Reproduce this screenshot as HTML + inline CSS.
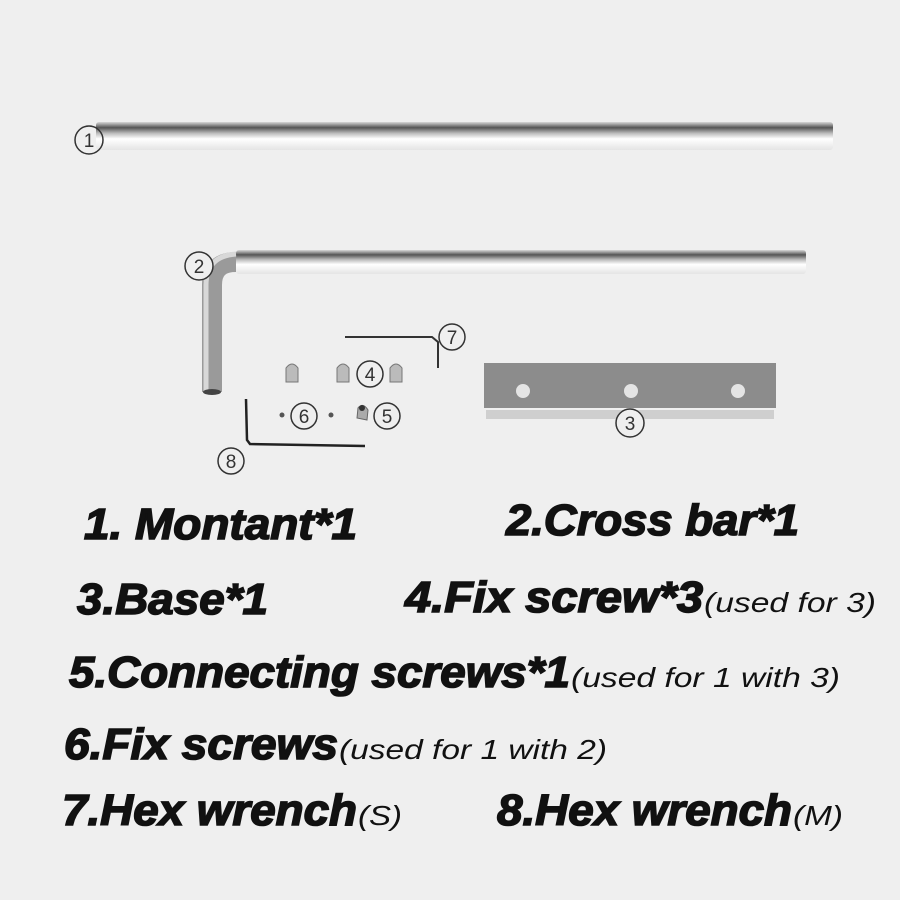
<!DOCTYPE html>
<html><head><style>html,body{margin:0;padding:0;background:#efefef;}svg{display:block}</style></head>
<body>
<svg width="900" height="900" viewBox="0 0 900 900" xmlns="http://www.w3.org/2000/svg">
<defs>
<linearGradient id="rodH" x1="0" y1="0" x2="0" y2="1">
<stop offset="0" stop-color="#d8d8d8"/><stop offset="0.2" stop-color="#555"/><stop offset="0.4" stop-color="#bbb"/><stop offset="0.6" stop-color="#fff"/><stop offset="1" stop-color="#e4e4e4"/>
</linearGradient>
<linearGradient id="rodV" x1="0" y1="0" x2="1" y2="0">
<stop offset="0" stop-color="#ddd"/><stop offset="0.3" stop-color="#bbb"/><stop offset="0.6" stop-color="#888"/><stop offset="1" stop-color="#ccc"/>
</linearGradient>
</defs>
<rect width="900" height="900" fill="#efefef"/>
<rect x="96" y="122" width="737" height="28" rx="3" fill="url(#rodH)"/>
<circle cx="89" cy="140" r="14" fill="none" stroke="#333" stroke-width="1.5"/>
<text x="89" y="147" font-family="Liberation Sans" font-size="19" text-anchor="middle" fill="#333">1</text>
<rect x="236" y="250" width="570" height="24" rx="3" fill="url(#rodH)"/>
<path d="M212 392 L212 285 Q212 262 236 262" fill="none" stroke="#9a9a9a" stroke-width="20"/>
<path d="M206 392 L206 285 Q206 256 236 254" fill="none" stroke="#d8d8d8" stroke-width="5"/>
<ellipse cx="212" cy="392" rx="9" ry="3" fill="#444"/>
<circle cx="199" cy="266" r="14" fill="#efefef" stroke="#333" stroke-width="1.5"/>
<text x="199" y="273" font-family="Liberation Sans" font-size="19" text-anchor="middle" fill="#333">2</text>
<path d="M345 337 L432 337 L438 342 L438 368" fill="none" stroke="#333" stroke-width="2"/>
<circle cx="452" cy="337" r="13" fill="none" stroke="#333" stroke-width="1.5"/>
<text x="452" y="344" font-family="Liberation Sans" font-size="19" text-anchor="middle" fill="#333">7</text>
<g fill="#bbb" stroke="#777" stroke-width="1">
<path d="M286 382 L286 368 Q292 360 298 368 L298 382 Z"/>
<path d="M337 382 L337 368 Q343 360 349 368 L349 382 Z"/>
<path d="M390 382 L390 368 Q396 360 402 368 L402 382 Z"/>
</g>
<circle cx="370" cy="374" r="13" fill="none" stroke="#333" stroke-width="1.5"/>
<text x="370" y="381" font-family="Liberation Sans" font-size="19" text-anchor="middle" fill="#333">4</text>
<circle cx="282" cy="415" r="2.5" fill="#555"/>
<circle cx="331" cy="415" r="2.5" fill="#555"/>
<circle cx="304" cy="416" r="13" fill="none" stroke="#333" stroke-width="1.5"/>
<text x="304" y="423" font-family="Liberation Sans" font-size="19" text-anchor="middle" fill="#333">6</text>
<path d="M357 418 L358 408 Q363 402 368 410 L367 420 Z" fill="#aaa" stroke="#666"/>
<circle cx="362" cy="408" r="3" fill="#333"/>
<circle cx="387" cy="416" r="13" fill="none" stroke="#333" stroke-width="1.5"/>
<text x="387" y="423" font-family="Liberation Sans" font-size="19" text-anchor="middle" fill="#333">5</text>
<path d="M246 399 L247 440 L250 444 L365 446" fill="none" stroke="#222" stroke-width="2.5"/>
<circle cx="231" cy="461" r="13" fill="none" stroke="#333" stroke-width="1.5"/>
<text x="231" y="468" font-family="Liberation Sans" font-size="19" text-anchor="middle" fill="#333">8</text>
<rect x="484" y="363" width="292" height="45" fill="#8c8c8c"/>
<rect x="486" y="410" width="288" height="9" fill="#cfcfcf"/>
<circle cx="523" cy="391" r="7" fill="#e4e4e4"/>
<circle cx="631" cy="391" r="7" fill="#e4e4e4"/>
<circle cx="738" cy="391" r="7" fill="#e4e4e4"/>
<circle cx="630" cy="423" r="14" fill="#efefef" stroke="#333" stroke-width="1.5"/>
<text x="630" y="430" font-family="Liberation Sans" font-size="19" text-anchor="middle" fill="#333">3</text>
<g font-family="Liberation Sans, sans-serif" font-weight="bold" font-style="italic" fill="#111" stroke="#111" stroke-width="1.6" font-size="44">
<text x="84" y="539" textLength="273" lengthAdjust="spacingAndGlyphs">1. Montant*1</text>
<text x="506" y="535" textLength="293" lengthAdjust="spacingAndGlyphs">2.Cross bar*1</text>
<text x="77" y="614" textLength="191" lengthAdjust="spacingAndGlyphs">3.Base*1</text>
<text x="405" y="612" textLength="298" lengthAdjust="spacingAndGlyphs">4.Fix screw*3</text>
<text x="69" y="687" textLength="501" lengthAdjust="spacingAndGlyphs">5.Connecting screws*1</text>
<text x="64" y="759" textLength="274" lengthAdjust="spacingAndGlyphs">6.Fix screws</text>
<text x="62" y="825" textLength="295" lengthAdjust="spacingAndGlyphs">7.Hex wrench</text>
<text x="497" y="825" textLength="295" lengthAdjust="spacingAndGlyphs">8.Hex wrench</text>
</g>
<g font-family="Liberation Sans, sans-serif" font-style="italic" fill="#111" font-size="28">
<text x="704" y="612" textLength="172" lengthAdjust="spacingAndGlyphs">(used for 3)</text>
<text x="571" y="687" textLength="269" lengthAdjust="spacingAndGlyphs">(used for 1 with 3)</text>
<text x="339" y="759" textLength="268" lengthAdjust="spacingAndGlyphs">(used for 1 with 2)</text>
<text x="358" y="825" textLength="44" lengthAdjust="spacingAndGlyphs">(S)</text>
<text x="793" y="825" textLength="50" lengthAdjust="spacingAndGlyphs">(M)</text>
</g>
</svg>
</body></html>
